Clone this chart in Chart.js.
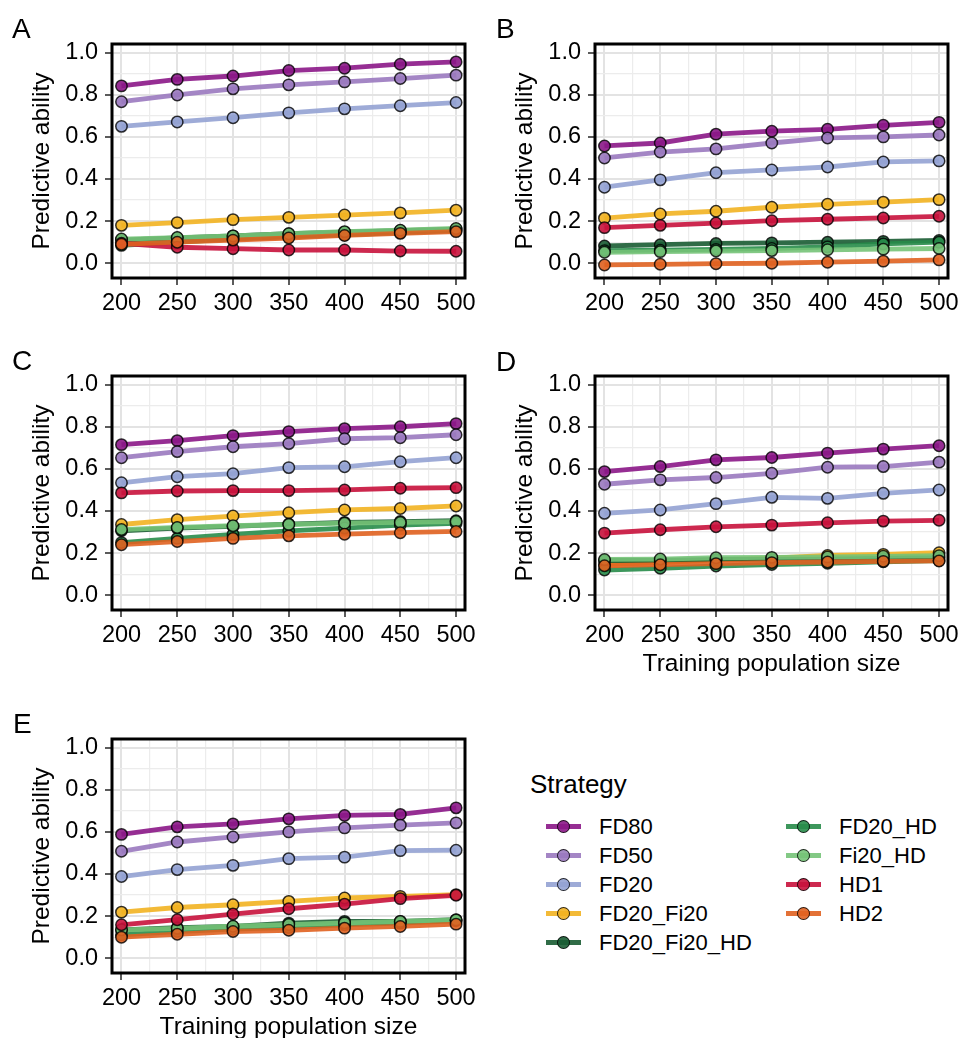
<!DOCTYPE html>
<html>
<head>
<meta charset="utf-8">
<script src="https://cdn.jsdelivr.net/npm/chart.js@4.4.0/dist/chart.umd.min.js"></script>
<style>
html,body{margin:0;padding:0;background:#fff;}
body{width:961px;height:1038px;position:relative;overflow:hidden;font-family:"Liberation Sans",Arial,Helvetica,sans-serif;color:#000;}
canvas{position:absolute;}
.letter{position:absolute;font-size:28px;line-height:28px;}
.legtitle{position:absolute;font-size:26px;line-height:26px;left:530px;top:771px;}
.leglabel{position:absolute;font-size:22px;line-height:22px;white-space:nowrap;}
.legline{position:absolute;height:5px;width:35px;}
.legdot{position:absolute;width:11px;height:11px;border-radius:50%;border:1.5px solid rgba(0,0,0,0.8);}
</style>
</head>
<body>
<script>
// ---------- data ----------
const xValues = [200, 250, 300, 350, 400, 450, 500];
const xTickLabels = ['200', '250', '300', '350', '400', '450', '500'];
const xMinorValues = [225, 275, 325, 375, 425, 475];
const yTickValues = [0, 0.2, 0.4, 0.6, 0.8, 1.0];
const yTickLabels = ['0.0', '0.2', '0.4', '0.6', '0.8', '1.0'];
const yMinorValues = [0.1, 0.3, 0.5, 0.7, 0.9];
const strategies = ['FD80', 'FD50', 'FD20', 'FD20_Fi20', 'FD20_Fi20_HD', 'FD20_HD', 'Fi20_HD', 'HD1', 'HD2'];
const strategyColors = ['#8B1787', '#9A79BF', '#94A2D3', '#F2B221', '#1A5C33', '#288C4A', '#76C378', '#C8123C', '#E06220'];
const panelLetters = ['A', 'B', 'C', 'D', 'E'];
const yTitle = 'Predictive ability';
const xTitle = 'Training population size';
const legendTitle = 'Strategy';

// rows follow the strategies order
const panelA = [
  [0.842, 0.873, 0.889, 0.915, 0.926, 0.945, 0.956],
  [0.767, 0.799, 0.828, 0.847, 0.861, 0.877, 0.893],
  [0.650, 0.671, 0.691, 0.714, 0.733, 0.748, 0.763],
  [0.180, 0.193, 0.207, 0.218, 0.229, 0.239, 0.252],
  [0.110, 0.120, 0.130, 0.140, 0.148, 0.155, 0.162],
  [0.085, 0.100, 0.115, 0.125, 0.135, 0.145, 0.155],
  [0.115, 0.122, 0.130, 0.140, 0.150, 0.157, 0.165],
  [0.095, 0.076, 0.069, 0.063, 0.063, 0.058, 0.057],
  [0.090, 0.100, 0.110, 0.120, 0.132, 0.142, 0.150]
];
const panelB = [
  [0.557, 0.571, 0.613, 0.627, 0.636, 0.655, 0.669],
  [0.500, 0.528, 0.543, 0.571, 0.595, 0.600, 0.609],
  [0.361, 0.396, 0.430, 0.443, 0.457, 0.481, 0.486],
  [0.214, 0.234, 0.247, 0.266, 0.280, 0.290, 0.302],
  [0.082, 0.088, 0.094, 0.097, 0.100, 0.104, 0.108],
  [0.060, 0.062, 0.066, 0.070, 0.078, 0.092, 0.100],
  [0.052, 0.055, 0.058, 0.060, 0.064, 0.067, 0.070],
  [0.169, 0.180, 0.191, 0.202, 0.209, 0.215, 0.223],
  [-0.008, -0.005, -0.002, 0.000, 0.005, 0.010, 0.016]
];
const panelC = [
  [0.715, 0.734, 0.758, 0.777, 0.791, 0.800, 0.815],
  [0.653, 0.682, 0.705, 0.720, 0.743, 0.748, 0.762],
  [0.534, 0.563, 0.577, 0.606, 0.610, 0.634, 0.653],
  [0.336, 0.359, 0.376, 0.392, 0.405, 0.412, 0.424],
  [0.306, 0.319, 0.327, 0.338, 0.346, 0.350, 0.354],
  [0.250, 0.270, 0.289, 0.306, 0.319, 0.333, 0.341],
  [0.312, 0.322, 0.330, 0.336, 0.342, 0.346, 0.350],
  [0.486, 0.495, 0.497, 0.497, 0.500, 0.508, 0.511],
  [0.240, 0.255, 0.270, 0.282, 0.290, 0.297, 0.303]
];
const panelD = [
  [0.587, 0.611, 0.643, 0.654, 0.675, 0.694, 0.710],
  [0.527, 0.548, 0.559, 0.579, 0.608, 0.611, 0.632],
  [0.389, 0.405, 0.435, 0.465, 0.460, 0.484, 0.500],
  [0.146, 0.155, 0.168, 0.176, 0.189, 0.194, 0.202],
  [0.165, 0.165, 0.170, 0.170, 0.172, 0.175, 0.178],
  [0.120, 0.128, 0.139, 0.146, 0.152, 0.159, 0.165],
  [0.170, 0.172, 0.178, 0.180, 0.182, 0.185, 0.188],
  [0.295, 0.311, 0.325, 0.333, 0.344, 0.352, 0.356],
  [0.140, 0.145, 0.150, 0.155, 0.158, 0.161, 0.163]
];
const panelE = [
  [0.588, 0.624, 0.638, 0.662, 0.678, 0.683, 0.714],
  [0.508, 0.552, 0.576, 0.600, 0.619, 0.632, 0.643],
  [0.388, 0.421, 0.441, 0.473, 0.480, 0.511, 0.513],
  [0.219, 0.241, 0.254, 0.270, 0.286, 0.294, 0.302],
  [0.135, 0.145, 0.151, 0.167, 0.175, 0.175, 0.183],
  [0.111, 0.127, 0.138, 0.146, 0.159, 0.167, 0.178],
  [0.135, 0.142, 0.152, 0.160, 0.168, 0.175, 0.182],
  [0.159, 0.183, 0.210, 0.235, 0.257, 0.283, 0.299],
  [0.100, 0.114, 0.127, 0.133, 0.143, 0.151, 0.162]
];
const panelData = [panelA, panelB, panelC, panelD, panelE];

// ---------- layout (page pixels) ----------
const AXIS_W = 112, TOP_PAD = 44, RIGHT_PAD = 20, XAXIS_H = 80;
const panelBoxes = [
  {left: 112, right: 465, top: 44, bottom: 278, letterX: 12, letterY: 15, xTitle: false},
  {left: 595, right: 948, top: 44, bottom: 278, letterX: 496, letterY: 15, xTitle: false},
  {left: 112, right: 465, top: 376, bottom: 610, letterX: 12, letterY: 347, xTitle: false},
  {left: 595, right: 948, top: 376, bottom: 610, letterX: 496, letterY: 348, xTitle: true},
  {left: 112, right: 465, top: 739, bottom: 973, letterX: 13, letterY: 710, xTitle: true}
];

function rgba(hex, a) {
  const n = parseInt(hex.slice(1), 16);
  return `rgba(${(n >> 16) & 255},${(n >> 8) & 255},${n & 255},${a})`;
}

const FONT = '"Liberation Sans", Arial, Helvetica, sans-serif';
const allY = yTickValues.concat(yMinorValues).sort((a, b) => a - b);
const allX = xValues.concat(xMinorValues).sort((a, b) => a - b);
const LINE_ALPHA = 0.9, POINT_ALPHA = 0.9;

const borderPlugin = {
  id: 'panelBorder',
  afterDraw(chart) {
    const {ctx, chartArea: a} = chart;
    ctx.save();
    ctx.strokeStyle = '#000';
    ctx.lineWidth = 3;
    ctx.strokeRect(a.left, a.top, a.right - a.left, a.bottom - a.top);
    ctx.restore();
  }
};

panelBoxes.forEach((box, p) => {
  const canvas = document.createElement('canvas');
  const cw = (box.right - box.left) + AXIS_W + RIGHT_PAD;
  const ch = (box.bottom - box.top) + TOP_PAD + XAXIS_H;
  canvas.width = cw; canvas.height = ch;
  canvas.style.left = (box.left - AXIS_W) + 'px';
  canvas.style.top = (box.top - TOP_PAD) + 'px';
  canvas.style.width = cw + 'px'; canvas.style.height = ch + 'px';
  document.body.appendChild(canvas);

  const letter = document.createElement('div');
  letter.className = 'letter';
  letter.textContent = panelLetters[p];
  letter.style.left = box.letterX + 'px';
  letter.style.top = box.letterY + 'px';
  document.body.appendChild(letter);

  const series = panelData[p];
  const datasets = [];
  strategies.forEach((name, i) => {
    const pts = xValues.map((x, j) => ({x: x, y: series[i][j]}));
    datasets.push({
      label: name, data: pts, order: 200 - i,
      borderColor: rgba(strategyColors[i], LINE_ALPHA), borderWidth: 4.8,
      pointRadius: 0, showLine: true, fill: false, clip: false
    });
    datasets.push({
      label: name + ' points', data: pts, order: 100 - i,
      showLine: false, pointRadius: 5.7, pointBorderWidth: 1.5,
      pointBackgroundColor: rgba(strategyColors[i], POINT_ALPHA),
      pointBorderColor: 'rgba(0,0,0,0.8)', clip: false
    });
  });

  new Chart(canvas, {
    type: 'line',
    data: {datasets},
    options: {
      responsive: false, animation: false, devicePixelRatio: 1,
      layout: {autoPadding: false, padding: {left: 0, top: TOP_PAD, right: RIGHT_PAD, bottom: 0}},
      plugins: {legend: {display: false}, tooltip: {enabled: false}},
      events: [],
      scales: {
        x: {
          type: 'linear', min: 191.5, max: 508,
          afterBuildTicks: s => { s.ticks = allX.map(v => ({value: v})); },
          afterFit: s => { s.height = XAXIS_H; },
          ticks: {
            autoSkip: false, maxRotation: 0, padding: 4, color: '#000',
            font: {family: FONT, size: 23.5},
            callback: v => { const k = xValues.indexOf(v); return k >= 0 ? xTickLabels[k] : ''; }
          },
          grid: {
            color: c => xValues.includes(c.tick.value) ? '#e3e3e3' : '#ececec',
            lineWidth: c => xValues.includes(c.tick.value) ? 2 : 1.2,
            tickColor: c => xValues.includes(c.tick.value) ? '#333' : 'rgba(0,0,0,0)',
            tickWidth: 1.6, tickLength: 7
          },
          border: {display: false},
          title: {
            display: box.xTitle, text: xTitle, color: '#000',
            font: {family: FONT, size: 24.5}, padding: {top: 0, bottom: 11}
          }
        },
        y: {
          type: 'linear', min: -0.07, max: 1.041,
          afterBuildTicks: s => { s.ticks = allY.map(v => ({value: v})); },
          afterFit: s => { s.width = AXIS_W; },
          ticks: {
            autoSkip: false, padding: 7, color: '#000',
            font: {family: FONT, size: 23.5},
            callback: v => { const k = yTickValues.indexOf(v); return k >= 0 ? yTickLabels[k] : ''; }
          },
          grid: {
            color: c => yTickValues.includes(c.tick.value) ? '#e3e3e3' : '#ececec',
            lineWidth: c => yTickValues.includes(c.tick.value) ? 2 : 1.2,
            tickColor: c => yTickValues.includes(c.tick.value) ? '#333' : 'rgba(0,0,0,0)',
            tickWidth: 1.6, tickLength: 7
          },
          border: {display: false},
          title: {
            display: true, text: yTitle, color: '#000',
            font: {family: FONT, size: 24.5}, padding: {top: 28, bottom: 0}
          }
        }
      }
    },
    plugins: [borderPlugin]
  });
});

// ---------- legend ----------
const lt = document.createElement('div');
lt.className = 'legtitle';
lt.textContent = legendTitle;
document.body.appendChild(lt);
const legendCols = [{line: 546, label: 599}, {line: 786, label: 839}];
strategies.forEach((name, i) => {
  const col = i < 5 ? legendCols[0] : legendCols[1];
  const row = i < 5 ? i : i - 5;
  const cy = 826.5 + row * 29;
  const line = document.createElement('div');
  line.className = 'legline';
  line.style.left = col.line + 'px';
  line.style.top = (cy - 2.5) + 'px';
  line.style.background = rgba(strategyColors[i], LINE_ALPHA);
  document.body.appendChild(line);
  const dot = document.createElement('div');
  dot.className = 'legdot';
  dot.style.left = (col.line + 17.5 - 7) + 'px';
  dot.style.top = (cy - 7) + 'px';
  dot.style.background = rgba(strategyColors[i], POINT_ALPHA);
  document.body.appendChild(dot);
  const lab = document.createElement('div');
  lab.className = 'leglabel';
  lab.textContent = name;
  lab.style.left = col.label + 'px';
  lab.style.top = (cy - 10.7) + 'px';
  document.body.appendChild(lab);
});
</script>
</body>
</html>
